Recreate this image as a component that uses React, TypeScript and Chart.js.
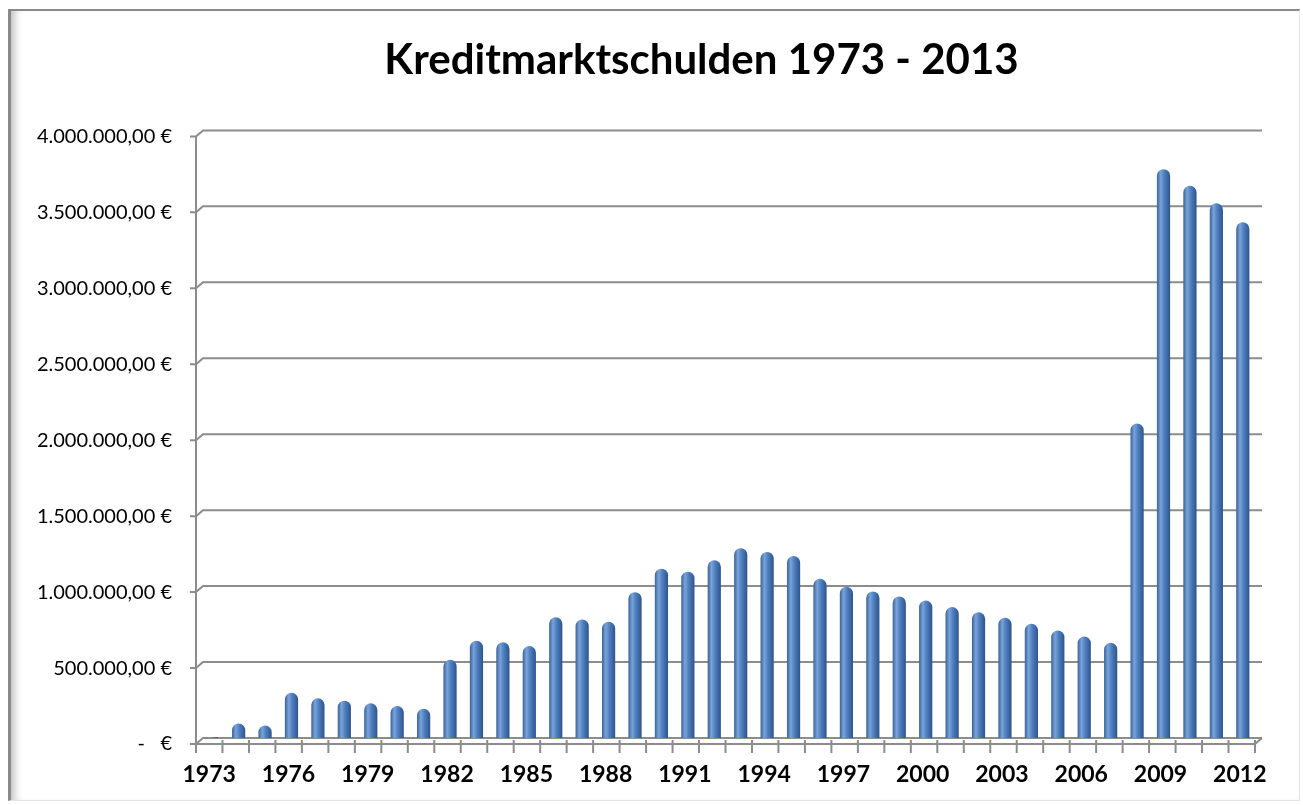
import React, { useEffect, useRef } from "react";
import { Chart, registerables } from "chart.js";

Chart.register(...registerables);

const years: string[] = [
  "1973","1974","1975","1976","1977","1978","1979","1980","1981","1982",
  "1983","1984","1985","1986","1987","1988","1989","1990","1991","1992",
  "1993","1994","1995","1996","1997","1998","1999","2000","2001","2002",
  "2003","2004","2005","2006","2007","2008","2009","2010","2011","2012",
];

const debt: number[] = [
  6000, 95000, 82000, 298000, 262000, 246000, 229000, 211000, 192000, 515000,
  640000, 630000, 605000, 795000, 780000, 765000, 960000, 1115000, 1095000, 1170000,
  1250000, 1225000, 1198000, 1048000, 995000, 965000, 932000, 905000, 862000, 828000,
  792000, 752000, 708000, 668000, 627000, 2070000, 3745000, 3635000, 3520000, 3395000,
];

const yMin = 0;
const yMax = 4000000;
const yStep = 500000;

const titleText = "Kreditmarktschulden 1973 - 2013";

function formatEuro(v: number): string {
  if (v === 0) return "-   €";
  const s = Math.round(v).toString();
  const withDots = s.replace(/\B(?=(\d{3})+(?!\d))/g, ".");
  return withDots + ",00 €";
}

const FONT = "Lato, 'Open Sans', sans-serif";

const floorPlugin = {
  id: "floor3d",
  afterLayout(chart: any) {
    const tb = chart.titleBlock;
    if (tb) {
      tb.left = 100;
      tb.right = 1303;
    }
  },
  beforeDatasetsDraw(chart: any) {
    const { ctx, chartArea, scales } = chart;
    const ys = scales.y;
    const dx = 7;
    const dy = 6;
    const fL = chartArea.left - 3;
    const fR = chartArea.right - 1;
    ctx.save();
    ctx.strokeStyle = "#8c8c8c";
    ctx.lineWidth = 2;
    ctx.lineCap = "butt";
    const values: number[] = [];
    for (let v = yMin; v <= yMax; v += yStep) values.push(v);
    values.forEach((v) => {
      const yb = ys.getPixelForValue(v);
      ctx.beginPath();
      ctx.moveTo(fL - 6, yb + dy);
      ctx.lineTo(fL, yb + dy);
      ctx.lineTo(fL + dx, yb);
      ctx.lineTo(fR + dx, yb);
      ctx.stroke();
    });
    const top = ys.getPixelForValue(yMax);
    const bottom = ys.getPixelForValue(yMin);
    ctx.beginPath();
    ctx.moveTo(fL, top + dy);
    ctx.lineTo(fL, bottom + dy);
    ctx.stroke();
    ctx.beginPath();
    ctx.moveTo(fL, bottom + dy);
    ctx.lineTo(fR, bottom + dy);
    ctx.lineTo(fR + dx, bottom);
    ctx.stroke();
    const n = years.length;
    for (let k = 0; k <= n; k++) {
      const x = fL + (k * (fR - fL)) / n;
      ctx.beginPath();
      ctx.moveTo(x, bottom + dy - 4);
      ctx.lineTo(x, bottom + dy + 9);
      ctx.stroke();
    }
    ctx.restore();
  },
};

export default function App() {
  const canvasRef = useRef<HTMLCanvasElement | null>(null);

  useEffect(() => {
    const canvas = canvasRef.current;
    if (!canvas) return;
    const chart = new Chart(canvas, {
      type: "bar",
      data: {
        labels: years,
        datasets: [
          {
            label: "Kreditmarktschulden",
            data: debt,
            base: -25000,
            barPercentage: 0.5,
            categoryPercentage: 1,
            borderWidth: 0,
            borderSkipped: "start",
            borderRadius: { topLeft: 7, topRight: 7, bottomLeft: 0, bottomRight: 0 },
            backgroundColor: (c: any) => {
              const chart = c.chart;
              const xs = chart.scales && chart.scales.x;
              if (!xs || c.type !== "data" || !chart.chartArea) return "#4f81bd";
              const x = xs.getPixelForValue(c.dataIndex);
              const w = 14;
              const g = chart.ctx.createLinearGradient(x - w / 2, 0, x + w / 2, 0);
              g.addColorStop(0, "#325b92");
              g.addColorStop(0.3, "#7aa3da");
              g.addColorStop(0.55, "#4f80c0");
              g.addColorStop(1, "#2c5187");
              return g;
            },
          } as any,
        ],
      },
      options: {
        animation: false,
        responsive: false,
        maintainAspectRatio: false,
        layout: { padding: { left: 0, right: 47, top: 0, bottom: 0 } },
        plugins: {
          legend: { display: false },
          tooltip: { enabled: false },
          title: {
            display: true,
            text: titleText,
            color: "#000000",
            font: { family: FONT, size: 42, weight: "bold", lineHeight: 1.2 },
            padding: { top: 35, bottom: 45 },
          },
        },
        scales: {
          x: {
            type: "category",
            offset: true,
            grid: { display: false, drawTicks: false },
            border: { display: false },
            afterFit: (s: any) => {
              s.height = 67;
            },
            ticks: {
              autoSkip: false,
              maxRotation: 0,
              minRotation: 0,
              padding: 23,
              labelOffset: -3,
              color: "#000000",
              font: { family: FONT, size: 23, weight: "bold", lineHeight: 1.2 },
              callback: (_v: any, i: number) => (i % 3 === 0 ? years[i] : ""),
            },
          },
          y: {
            min: yMin,
            max: yMax,
            grid: { display: false, drawTicks: false },
            border: { display: false },
            afterFit: (s: any) => {
              s.width = 199;
            },
            ticks: {
              stepSize: yStep,
              padding: 27,
              labelOffset: 6,
              color: "#000000",
              font: { family: FONT, size: 20, lineHeight: 1.2 },
              callback: (v: any) => formatEuro(Number(v)),
            },
          },
        },
      },
      plugins: [floorPlugin],
    });
    return () => {
      chart.destroy();
    };
  }, []);

  return (
    <div
      style={{
        position: "fixed",
        left: 0,
        top: 0,
        width: 1303,
        height: 805,
        background: "#ffffff",
        overflow: "hidden",
      }}
    >
      <canvas
        ref={canvasRef}
        width={1303}
        height={805}
        style={{ position: "absolute", left: 0, top: 0, width: 1303, height: 805 }}
      />
      <div
        style={{
          position: "absolute",
          left: 8,
          top: 9,
          width: 1292,
          height: 792,
          boxSizing: "border-box",
          borderTop: "2px solid #8a8a8a",
          borderLeft: "3px solid #8a8a8a",
          borderRight: "1px solid #e4e4e4",
          borderBottom: "1px solid #e4e4e4",
          boxShadow: "inset 9px 0 8px -6px rgba(0,0,0,0.28)",
          pointerEvents: "none",
        }}
      />
    </div>
  );
}
